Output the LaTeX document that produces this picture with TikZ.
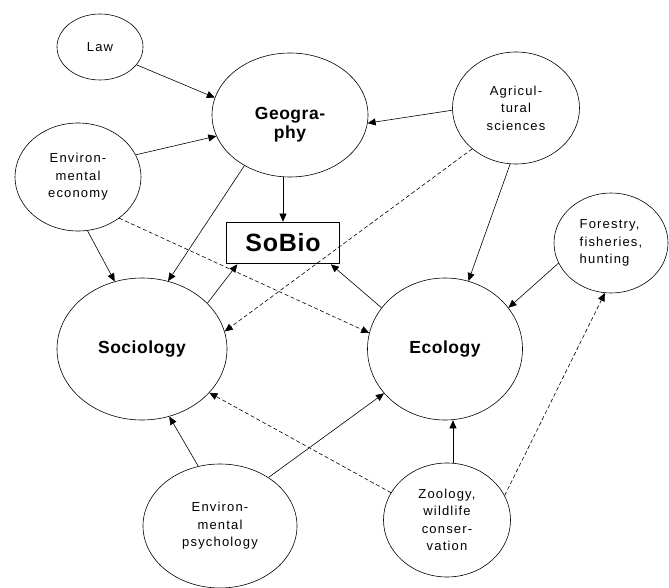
\documentclass[tikz,border=0pt]{standalone}
\usepackage{fontspec}
\setmainfont{Liberation Sans}
\newfontfamily\smallfam[LetterSpace=9]{Liberation Sans}
\newfontfamily\bigfam[LetterSpace=3]{Liberation Sans}
\usetikzlibrary{shapes.geometric,arrows.meta}
\begin{document}
\begin{tikzpicture}[x=1pt,y=-1pt,
  eli/.style={ellipse,draw,line width=0.6pt,inner sep=0pt,align=center},
  small/.style={font=\smallfam\fontsize{13}{17.5}\selectfont},
  big/.style={font=\bigfam\bfseries\fontsize{17.5}{19}\selectfont},
  arr/.style={line width=0.6pt,-{Triangle[length=8pt,width=7pt]}},
  darr/.style={arr,dash pattern=on 4pt off 2.5pt}]
\useasboundingbox (0,0) rectangle (669,588);
\node[eli,small,minimum width=86,minimum height=66] (law) at (100,47) {Law};
\node[eli,minimum width=156,minimum height=124,
  label={[name=geot,big,align=center,yshift=-10pt]center:Geogra-\\phy}] (geo) at (290,115) {};
\node[eli,small,minimum width=126,minimum height=108] (eco) at (78,177) {\raisebox{-6pt}{}Environ-\\mental\\economy};
\node[eli,small,minimum width=127,minimum height=112] (agr) at (516,108) {Agricul-\\tural\\sciences};
\node[eli,small,minimum width=114,minimum height=100,align=left] (for) at (611,243) {Forestry,\\fisheries,\\hunting};
\node[draw,line width=1.6pt,minimum width=113,minimum height=41,inner sep=0pt,
  font=\bigfam\bfseries\fontsize{25}{28}\selectfont] (sob) at (283,243) {SoBio};
\node[eli,big,minimum width=170,minimum height=142] (soc) at (142,349) {Sociology};
\node[eli,big,minimum width=155,minimum height=142] (ecl) at (445,349) {Ecology};
\node[eli,small,minimum width=154,minimum height=124] (psy) at (220,526) {Environ-\\mental\\psychology};
\node[eli,small,minimum width=127,minimum height=114] (zoo) at (447,520) {Zoology,\\wildlife\\conser-\\vation};
% solid connectors
\draw[arr] (law.-26) -- (geo.167);
\draw[arr] (eco.21) -- (geo.196);
\draw[arr] (agr.182) -- (geo.-6);
\draw[arr] (sob.north |- geo.south) -- (sob.north);
\draw[arr] (geo.-132) -- (soc.69);
\draw[arr] (eco.-80) -- (soc.112);
\draw[arr] (agr.-96) -- (ecl.71);
\draw[arr] (soc.35) -- (sob.-155);
\draw[arr] (ecl.147) -- (sob.-24);
\draw[arr] (for.201) -- (ecl.33);
\draw[arr] (zoo.84) -- (zoo.84 |- ecl.south);
\draw[arr] (psy.45) -- (ecl.-144);
\draw[arr] (psy.110) -- (soc.-68);
% dashed connectors
\draw[darr] (agr.-137) -- (soc.12);
\draw[darr] (eco.-45) -- (ecl.168);
\draw[darr] (zoo.23) -- (for.-97);
\draw[darr] (zoo.154) -- (soc.-33);
\end{tikzpicture}
\end{document}
